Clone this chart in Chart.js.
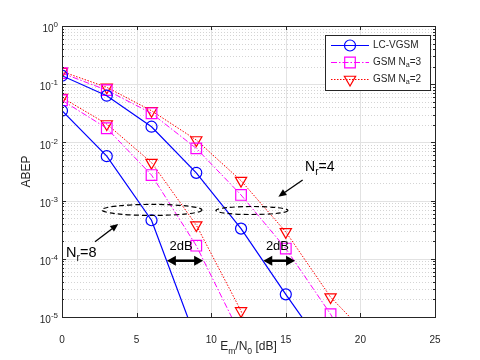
<!DOCTYPE html>
<html>
<head>
<meta charset="utf-8">
<script src="https://cdn.jsdelivr.net/npm/chart.js@4.4.1/dist/chart.umd.min.js"></script>
<style>
  html, body { margin: 0; padding: 0; background: #ffffff; }
</style>
</head>
<body>
<canvas id="abepChart" width="480" height="360"></canvas>
<script>
// ABEP vs Em/N0 chart - LC-VGSM against GSM for Nr = 4 and Nr = 8

// SNR points (dB)
const snrDb = [0, 3, 6, 9, 12, 15, 18, 21];

// Nr = 4
const lcVgsmNr4 = [0.14, 0.0635, 0.0186, 0.0030, 3.3e-4, 2.45e-5, 2e-6, null];
const gsmNa3Nr4 = [0.155, 0.079, 0.0316, 0.0079, 1.25e-3, 1.5e-4, 1.12e-5, 5e-7];
const gsmNa2Nr4 = [0.165, 0.0885, 0.035, 0.011, 2.2e-3, 2.9e-4, 2.2e-5, 3.5e-6];

// Nr = 8
const lcVgsmNr8 = [0.035, 0.0058, 4.6e-4, 4e-6, null, null, null, null];
const gsmNa3Nr8 = [0.053, 0.0175, 0.00275, 1.68e-4, 4.7e-6, null, null, null];
const gsmNa2Nr8 = [0.059, 0.0207, 0.0045, 3.8e-4, 1.27e-5, 1e-7, null, null];

// axis ticks
const xTicks = [0, 5, 10, 15, 20, 25];
const yExponents = [0, -1, -2, -3, -4, -5];

const BLUE = '#0000ff';
const MAGENTA = '#ff00ff';
const RED = '#ff0000';
const AXIS = '#262626';
const FONT = '"Liberation Sans", Arial, sans-serif';

function pairs(values) {
    return snrDb.map((x, i) => ({ x: x, y: values[i] }));
}

const styleLc = { borderColor: BLUE, borderWidth: 1.2, pointStyle: 'circle', pointRadius: 5.5, pointRotation: 0, borderDash: [] };
const styleNa3 = { borderColor: MAGENTA, borderWidth: 1, pointStyle: 'rect', pointRadius: 7.5, pointRotation: 0, borderDash: [6, 2, 1.5, 2] };
const styleNa2 = { borderColor: RED, borderWidth: 1, pointStyle: 'triangle', pointRadius: 6.5, pointRotation: 180, borderDash: [1.5, 1.5] };

function makeSet(label, values, style) {
    return {
        label: label,
        data: pairs(values),
        borderColor: style.borderColor,
        backgroundColor: 'rgba(0,0,0,0)',
        borderWidth: style.borderWidth,
        borderDash: style.borderDash,
        pointStyle: style.pointStyle,
        pointRadius: style.pointRadius,
        pointRotation: style.pointRotation,
        pointBorderColor: style.borderColor,
        pointBackgroundColor: 'rgba(0,0,0,0)',
        pointBorderWidth: 1.2,
        fill: false,
        tension: 0,
        spanGaps: false
    };
}

// small helper for text with sub/superscripts
function richText(ctx, parts, x, y, size, align) {
    const widths = parts.map(p => {
        ctx.font = (p.sub || p.sup ? size * 0.72 : size) + 'px ' + FONT;
        return ctx.measureText(p.t).width;
    });
    const total = widths.reduce((a, b) => a + b, 0);
    let cx = x;
    if (align === 'center') cx = x - total / 2;
    if (align === 'right') cx = x - total;
    ctx.textAlign = 'left';
    parts.forEach((p, i) => {
        ctx.font = (p.sub || p.sup ? size * 0.72 : size) + 'px ' + FONT;
        let dy = 0;
        if (p.sub) dy = size * 0.3;
        if (p.sup) dy = -size * 0.45;
        ctx.fillText(p.t, cx, y + dy);
        cx += widths[i];
    });
}

function arrowHead(ctx, x1, y1, x2, y2, len, half) {
    const a = Math.atan2(y2 - y1, x2 - x1);
    ctx.beginPath();
    ctx.moveTo(x2, y2);
    ctx.lineTo(x2 - len * Math.cos(a) + half * Math.sin(a), y2 - len * Math.sin(a) - half * Math.cos(a));
    ctx.lineTo(x2 - len * Math.cos(a) - half * Math.sin(a), y2 - len * Math.sin(a) + half * Math.cos(a));
    ctx.closePath();
    ctx.fill();
}

const gridPlugin = {
    id: 'matlabGrid',
    beforeDatasetsDraw(chart) {
        const ctx = chart.ctx;
        const area = chart.chartArea;
        const xs = chart.scales.x;
        const ys = chart.scales.y;
        ctx.save();
        ctx.lineWidth = 1;
        // minor horizontal dotted lines
        ctx.strokeStyle = '#d4d4d4';
        ctx.setLineDash([1, 2]);
        for (let e = -5; e < 0; e++) {
            for (let m = 2; m <= 9; m++) {
                const py = Math.round(ys.getPixelForValue(m * Math.pow(10, e))) + 0.5;
                ctx.beginPath();
                ctx.moveTo(area.left, py);
                ctx.lineTo(area.right, py);
                ctx.stroke();
            }
        }
        // major lines
        ctx.setLineDash([]);
        ctx.strokeStyle = '#e2e2e2';
        yExponents.forEach(e => {
            const py = Math.round(ys.getPixelForValue(Math.pow(10, e))) + 0.5;
            ctx.beginPath();
            ctx.moveTo(area.left, py);
            ctx.lineTo(area.right, py);
            ctx.stroke();
        });
        xTicks.forEach(t => {
            const px = Math.round(xs.getPixelForValue(t)) + 0.5;
            ctx.beginPath();
            ctx.moveTo(px, area.top);
            ctx.lineTo(px, area.bottom);
            ctx.stroke();
        });
        ctx.restore();
    },
    afterDraw(chart) {
        const ctx = chart.ctx;
        const area = chart.chartArea;
        const xs = chart.scales.x;
        const ys = chart.scales.y;
        const X = v => xs.getPixelForValue(v);
        const Y = e => ys.getPixelForValue(Math.pow(10, e));
        ctx.save();

        // box and tick marks
        ctx.strokeStyle = AXIS;
        ctx.lineWidth = 1;
        ctx.strokeRect(Math.round(area.left) + 0.5, Math.round(area.top) + 0.5,
            Math.round(area.right - area.left), Math.round(area.bottom - area.top));
        ctx.beginPath();
        xTicks.forEach(t => {
            const px = Math.round(X(t)) + 0.5;
            ctx.moveTo(px, area.bottom); ctx.lineTo(px, area.bottom - 4);
            ctx.moveTo(px, area.top); ctx.lineTo(px, area.top + 4);
        });
        for (let e = -5; e <= 0; e++) {
            const py = Math.round(Y(e)) + 0.5;
            ctx.moveTo(area.left, py); ctx.lineTo(area.left + 4, py);
            ctx.moveTo(area.right, py); ctx.lineTo(area.right - 4, py);
            if (e < 0) {
                for (let m = 2; m <= 9; m++) {
                    const pm = Math.round(ys.getPixelForValue(m * Math.pow(10, e))) + 0.5;
                    ctx.moveTo(area.left, pm); ctx.lineTo(area.left + 2, pm);
                    ctx.moveTo(area.right, pm); ctx.lineTo(area.right - 2, pm);
                }
            }
        }
        ctx.stroke();

        // y tick labels 10^e
        ctx.fillStyle = AXIS;
        ctx.textBaseline = 'middle';
        yExponents.forEach(e => {
            const py = Y(e);
            ctx.font = '8px ' + FONT;
            const sw = ctx.measureText(String(e)).width;
            ctx.textAlign = 'left';
            ctx.fillText(String(e), area.left - 4 - sw, py - 1);
            ctx.font = '10px ' + FONT;
            ctx.textAlign = 'right';
            ctx.fillText('10', area.left - 4 - sw, py + 3.5);
        });

        // axis titles
        ctx.textBaseline = 'alphabetic';
        richText(ctx, [{ t: 'E' }, { t: 'm', sub: true }, { t: '/N' }, { t: '0', sub: true }, { t: ' [dB]' }],
            (area.left + area.right) / 2, 350, 12, 'center');
        ctx.save();
        ctx.translate(30, (area.top + area.bottom) / 2);
        ctx.rotate(-Math.PI / 2);
        ctx.font = '12px ' + FONT;
        ctx.textAlign = 'center';
        ctx.fillText('ABEP', 0, 0);
        ctx.restore();

        // annotations
        ctx.fillStyle = '#000000';
        ctx.strokeStyle = '#000000';
        ctx.setLineDash([5, 3]);
        ctx.lineWidth = 1.2;
        ctx.beginPath();
        ctx.ellipse(X(6.03), Y(-3.16), 50, 5.5, 0, 0, Math.PI * 2);
        ctx.stroke();
        ctx.beginPath();
        ctx.ellipse(X(12.73), Y(-3.17), 36, 4, 0, 0, Math.PI * 2);
        ctx.stroke();
        ctx.setLineDash([]);

        // single arrows
        ctx.lineWidth = 1.3;
        [[16.13, -2.646, 14.5, -2.933], [2.21, -3.706, 3.77, -3.402]].forEach(a => {
            const x1 = X(a[0]), y1 = Y(a[1]), x2 = X(a[2]), y2 = Y(a[3]);
            const ang = Math.atan2(y2 - y1, x2 - x1);
            ctx.beginPath();
            ctx.moveTo(x1, y1);
            ctx.lineTo(x2 - 4 * Math.cos(ang), y2 - 4 * Math.sin(ang));
            ctx.stroke();
            arrowHead(ctx, x1, y1, x2, y2, 8, 3.5);
        });

        // double arrows (2 dB gaps)
        ctx.lineWidth = 2.5;
        [[7.03, 9.46], [13.49, 15.62]].forEach(a => {
            const x1 = X(a[0]), x2 = X(a[1]), y = Y(-4.033);
            ctx.beginPath();
            ctx.moveTo(x1 + 5, y);
            ctx.lineTo(x2 - 5, y);
            ctx.stroke();
            arrowHead(ctx, x2, y, x1, y, 9, 5);
            arrowHead(ctx, x1, y, x2, y, 9, 5);
        });

        ctx.textBaseline = 'middle';
        ctx.font = '13px ' + FONT;
        ctx.textAlign = 'center';
        ctx.fillText('2dB', X(7.98), Y(-3.789));
        ctx.fillText('2dB', X(14.44), Y(-3.789));

        ctx.textBaseline = 'alphabetic';
        richText(ctx, [{ t: 'N' }, { t: 'r', sub: true }, { t: '=4' }], X(16.29), Y(-2.491), 14, 'left');
        richText(ctx, [{ t: 'N' }, { t: 'r', sub: true }, { t: '=8' }], X(0.27), Y(-3.969), 14.5, 'left');

        // legend
        const lx = 325, ly = 35, lw = 105, lh = 55;
        ctx.fillStyle = '#ffffff';
        ctx.fillRect(lx, ly, lw, lh);
        ctx.strokeStyle = AXIS;
        ctx.lineWidth = 1;
        ctx.strokeRect(lx + 0.5, ly + 0.5, lw, lh);
        const entries = [
            { parts: [{ t: 'LC-VGSM' }], style: styleLc, y: 45 },
            { parts: [{ t: 'GSM N' }, { t: 'a', sub: true }, { t: '=3' }], style: styleNa3, y: 62 },
            { parts: [{ t: 'GSM N' }, { t: 'a', sub: true }, { t: '=2' }], style: styleNa2, y: 79 }
        ];
        entries.forEach(en => {
            const s = en.style;
            ctx.strokeStyle = s.borderColor;
            ctx.lineWidth = s.borderWidth;
            ctx.setLineDash(s.borderDash);
            ctx.beginPath();
            ctx.moveTo(331, en.y + 0.5);
            ctx.lineTo(369, en.y + 0.5);
            ctx.stroke();
            ctx.setLineDash([]);
            ctx.lineWidth = 1.2;
            ctx.fillStyle = 'rgba(0,0,0,0)';
            Chart.helpers.drawPoint(ctx, {
                pointStyle: s.pointStyle, radius: s.pointRadius, rotation: s.pointRotation, borderWidth: 1.2
            }, 350, en.y + 0.5);
            ctx.fillStyle = AXIS;
            ctx.textBaseline = 'middle';
            richText(ctx, en.parts, 373, en.y, 10, 'left');
        });
        ctx.restore();
    }
};

new Chart(document.getElementById('abepChart'), {
    type: 'line',
    data: {
        datasets: [
            makeSet('LC-VGSM', lcVgsmNr4, styleLc),
            makeSet('GSM Na=3', gsmNa3Nr4, styleNa3),
            makeSet('GSM Na=2', gsmNa2Nr4, styleNa2),
            makeSet('LC-VGSM Nr=8', lcVgsmNr8, styleLc),
            makeSet('GSM Na=3 Nr=8', gsmNa3Nr8, styleNa3),
            makeSet('GSM Na=2 Nr=8', gsmNa2Nr8, styleNa2)
        ]
    },
    options: {
        responsive: false,
        animation: false,
        layout: { padding: { left: 10, right: 45, top: 26, bottom: 10 } },
        plugins: {
            legend: { display: false },
            tooltip: { enabled: false }
        },
        scales: {
            x: {
                type: 'linear',
                min: 0,
                max: 25,
                afterFit: s => { s.height = 33; },
                afterBuildTicks: s => { s.ticks = xTicks.map(v => ({ value: v })); },
                ticks: { color: AXIS, font: { size: 10, family: FONT }, padding: 9, maxRotation: 0 },
                grid: { display: false },
                border: { display: false }
            },
            y: {
                type: 'logarithmic',
                min: 1e-5,
                max: 1,
                afterFit: s => { s.width = 52; },
                ticks: { display: false },
                grid: { display: false },
                border: { display: false }
            }
        }
    },
    plugins: [gridPlugin]
});
</script>
</body>
</html>
